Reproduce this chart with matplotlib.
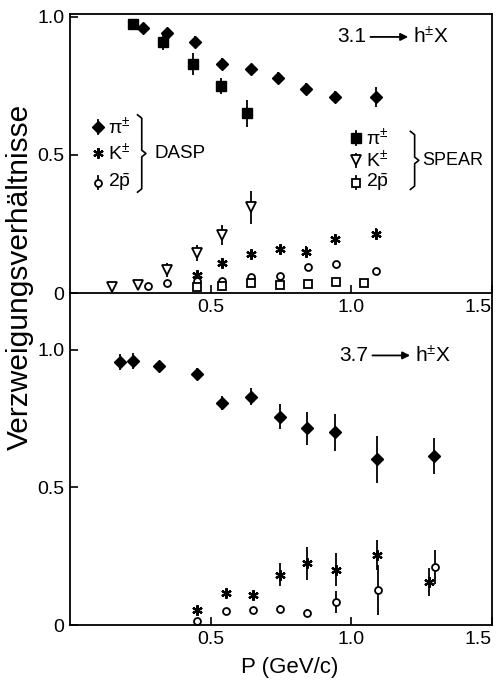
import matplotlib
matplotlib.use('Agg')
import matplotlib.pyplot as plt
from matplotlib.lines import Line2D

plt.rcParams['font.family'] = ['Liberation Sans', 'DejaVu Sans']
plt.rcParams['mathtext.fontset'] = 'custom'
plt.rcParams['mathtext.rm'] = 'Liberation Sans'
plt.rcParams['mathtext.it'] = 'Liberation Sans:italic'
plt.rcParams['mathtext.bf'] = 'Liberation Sans:bold'

# ---------------- data: psi(3.1) -> h X (top panel) ----------------
dasp_pi_p = [0.26, 0.344, 0.446, 0.54, 0.645, 0.741, 0.84, 0.943, 1.088]
dasp_pi_y = [0.96, 0.94, 0.91, 0.83, 0.81, 0.78, 0.74, 0.71, 0.71]
dasp_pi_e = [0.015, 0.02, 0.02, 0.02, 0.02, 0.02, 0.02, 0.02, 0.035]

dasp_k_p = [0.45, 0.54, 0.645, 0.745, 0.84, 0.943, 1.088]
dasp_k_y = [0.065, 0.11, 0.14, 0.16, 0.15, 0.195, 0.215]
dasp_k_e = [0.015, 0.015, 0.015, 0.015, 0.02, 0.02, 0.02]

dasp_pb_p = [0.277, 0.344, 0.45, 0.54, 0.645, 0.745, 0.845, 0.946, 1.088]
dasp_pb_y = [0.025, 0.035, 0.045, 0.045, 0.058, 0.06, 0.095, 0.105, 0.08]

spear_pi_p = [0.225, 0.33, 0.436, 0.535, 0.63]
spear_pi_y = [0.975, 0.91, 0.83, 0.75, 0.65]
spear_pi_e = [0.01, 0.03, 0.04, 0.03, 0.05]

spear_k_p = [0.15, 0.24, 0.344, 0.45, 0.54, 0.645]
spear_k_y = [0.022, 0.028, 0.083, 0.145, 0.21, 0.31]
spear_k_e = [0.0, 0.0, 0.025, 0.03, 0.035, 0.06]

spear_pb_p = [0.45, 0.54, 0.645, 0.745, 0.845, 0.946, 1.046]
spear_pb_y = [0.02, 0.025, 0.036, 0.03, 0.033, 0.04, 0.036]

# ---------------- data: psi(3.7) -> h X (bottom panel) ----------------
b_pi_p = [0.177, 0.223, 0.316, 0.45, 0.54, 0.645, 0.748, 0.843, 0.943, 1.092, 1.294]
b_pi_y = [0.956, 0.96, 0.942, 0.913, 0.807, 0.83, 0.757, 0.716, 0.70, 0.603, 0.615]
b_pi_e = [0.03, 0.03, 0.015, 0.02, 0.025, 0.03, 0.045, 0.06, 0.067, 0.085, 0.065]

b_k_p = [0.453, 0.553, 0.649, 0.748, 0.844, 0.947, 1.092, 1.277]
b_k_y = [0.055, 0.116, 0.109, 0.182, 0.225, 0.20, 0.255, 0.156]
b_k_e = [0.01, 0.015, 0.015, 0.042, 0.06, 0.06, 0.055, 0.05]

b_pb_p = [0.453, 0.553, 0.649, 0.748, 0.844, 0.947, 1.096, 1.298]
b_pb_y = [0.015, 0.05, 0.055, 0.058, 0.044, 0.084, 0.127, 0.211]
b_pb_e = [0.01, 0.01, 0.01, 0.015, 0.015, 0.04, 0.09, 0.063]

x_ticks = [0.5, 1.0, 1.5]
x_ticklabels = ['0.5', '1.0', '1.5']
y_ticks = [0, 0.5, 1.0]
y_ticklabels = ['0', '0.5', '1.0']

# ---------------- styles ----------------
ASTER = (6, 2, 0)
sty = {
    'pi_d': dict(marker='D', ms=6, mfc='black', mec='black'),
    'pi_s': dict(marker='s', ms=6.5, mfc='black', mec='black'),
    'k_a': dict(marker=ASTER, ms=7.5, mfc='black', mec='black', mew=1.6),
    'k_t': dict(marker='v', ms=7, mfc='white', mec='black', mew=1.3),
    'pb_o': dict(marker='o', ms=5, mfc='white', mec='black', mew=1.3),
    'pb_s': dict(marker='s', ms=5.5, mfc='white', mec='black', mew=1.3),
}

def eb(ax, x, y, e, key):
    ax.errorbar(x, y, yerr=e, fmt='none', ecolor='black', elinewidth=1.3, capsize=0, zorder=2)
    ax.plot(x, y, ls='none', zorder=3, **sty[key])

def pts(ax, x, y, key):
    ax.plot(x, y, ls='none', zorder=3, **sty[key])

fig = plt.figure(figsize=(4.97, 6.83), dpi=100)
W, H = 497, 683
L, R = 70 / W, 492 / W
ax2 = fig.add_axes([L, 1 - 625 / H, R - L, (625 - 293) / H])
ax1 = fig.add_axes([L, 1 - 293 / H, R - L, (293 - 14) / H])

ax1.set_ylim(0, 1.01)
ax2.set_ylim(0, 1.207)
for ax in (ax1, ax2):
    ax.set_xlim(0, 1.5)
    ax.set_xticks(x_ticks)
    ax.set_xticklabels(x_ticklabels)
    ax.set_yticks(y_ticks)
    ax.set_yticklabels(y_ticklabels)
    ax.tick_params(direction='in', length=6, width=1.2, labelsize=14, pad=4)
    for s in ax.spines.values():
        s.set_linewidth(1.3)
    ax.get_xticklabels()[-1].set_horizontalalignment('right')
    ax.patch.set_alpha(0)
ax2.spines['top'].set_visible(False)

# top panel
eb(ax1, dasp_pi_p, dasp_pi_y, dasp_pi_e, 'pi_d')
eb(ax1, spear_pi_p, spear_pi_y, spear_pi_e, 'pi_s')
eb(ax1, dasp_k_p, dasp_k_y, dasp_k_e, 'k_a')
eb(ax1, spear_k_p, spear_k_y, spear_k_e, 'k_t')
pts(ax1, dasp_pb_p, dasp_pb_y, 'pb_o')
pts(ax1, spear_pb_p, spear_pb_y, 'pb_s')

# bottom panel
eb(ax2, b_pi_p, b_pi_y, b_pi_e, 'pi_d')
eb(ax2, b_k_p, b_k_y, b_k_e, 'k_a')
eb(ax2, b_pb_p, b_pb_y, b_pb_e, 'pb_o')

# legends drawn as in the original (symbol with bar + label)
def leg_entry(ax, x, y, key, label, bar):
    ax.plot([x, x], [y - bar, y + bar], color='black', lw=1.3, zorder=2)
    ax.plot([x], [y], ls='none', zorder=3, **sty[key])
    ax.text(x + 0.035, y, label, fontsize=14, va='center', ha='left')

def brace(ax, x, ytop, ybot, dx=0.015, dy=0.012):
    ym = 0.5 * (ytop + ybot)
    xs = [x - dx, x, x, x + dx, x, x, x - dx]
    ys = [ytop, ytop - dy, ym + dy, ym, ym - dy, ybot + dy, ybot]
    ax.add_line(Line2D(xs, ys, color='black', lw=1.2))

pi_lbl = 'π$^{\\pm}$'
k_lbl = 'K$^{\\pm}$'
pb_lbl = '2$\\bar{\\mathrm{p}}$'

leg_entry(ax1, 0.099, 0.60, 'pi_d', pi_lbl, 0.025)
leg_entry(ax1, 0.099, 0.507, 'k_a', k_lbl, 0.015)
leg_entry(ax1, 0.099, 0.40, 'pb_o', pb_lbl, 0.025)
brace(ax1, 0.255, 0.645, 0.365)
ax1.text(0.30, 0.505, 'DASP', fontsize=13.5, va='center', ha='left')

leg_entry(ax1, 1.018, 0.56, 'pi_s', pi_lbl, 0.025)
leg_entry(ax1, 1.018, 0.48, 'k_t', k_lbl, 0.025)
leg_entry(ax1, 1.018, 0.40, 'pb_s', pb_lbl, 0.025)
brace(ax1, 1.225, 0.585, 0.375)
ax1.text(1.252, 0.48, 'SPEAR', fontsize=13, va='center', ha='left')

def reaction(ax, x0, y, mass):
    ax.text(x0, y, mass, fontsize=15, va='center', ha='left')
    ax.annotate('', xy=(x0 + 0.252, y), xytext=(x0 + 0.118, y),
                arrowprops=dict(arrowstyle='-|>', color='black', lw=1.3,
                                mutation_scale=11, shrinkA=0, shrinkB=0))
    ax.text(x0 + 0.27, y, 'h$^{\\pm}$X', fontsize=15, va='center', ha='left')

reaction(ax1, 0.95, 0.927, '3.1')
reaction(ax2, 0.957, 0.98, '3.7')

fig.text(20 / W, 1 - 277 / H, 'Verzweigungsverhältnisse', rotation=90,
         fontsize=21.5, va='center', ha='center')
fig.text(290 / W, 1 - 667 / H, 'P (GeV/c)', fontsize=16, va='center', ha='center')

fig.savefig('out.png', dpi=100, facecolor='white')
